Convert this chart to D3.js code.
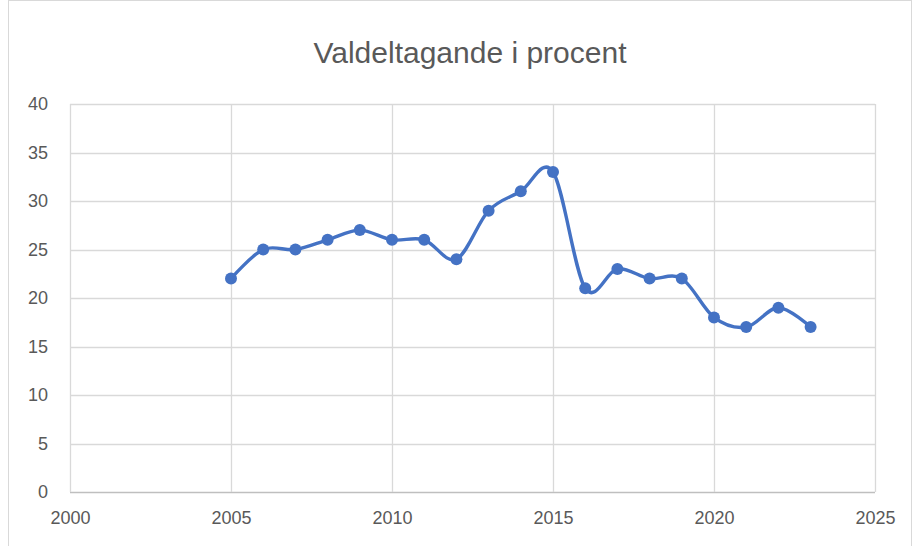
<!DOCTYPE html>
<html>
<head>
<meta charset="utf-8">
<script src="https://cdn.jsdelivr.net/npm/d3@7"></script>
<style>
  body { margin: 0; background: #fff; }
  text { font-family: "Liberation Sans", "Open Sans", sans-serif; fill: #595959; }
</style>
</head>
<body>
<div id="chart"></div>
<script>
// data
const years = [2005, 2006, 2007, 2008, 2009, 2010, 2011, 2012, 2013, 2014, 2015, 2016, 2017, 2018, 2019, 2020, 2021, 2022, 2023];
const turnout = [22, 25, 25, 26, 27, 26, 26, 24, 29, 31, 33, 21, 23, 22, 22, 18, 17, 19, 17];
const xTicks = [2000, 2005, 2010, 2015, 2020, 2025];
const yTicks = [0, 5, 10, 15, 20, 25, 30, 35, 40];
const title = "Valdeltagande i procent";

const width = 914, height = 546;
const margin = { left: 70, right: 39, top: 104, bottom: 54 };

const svg = d3.select("#chart").append("svg")
  .attr("width", width)
  .attr("height", height);

// outer chart border
svg.append("rect")
  .attr("x", 8.5).attr("y", 0.5)
  .attr("width", 903).attr("height", 550)
  .attr("fill", "none")
  .attr("stroke", "#d9d9d9");

const x = d3.scaleLinear()
  .domain([2000, 2025])
  .range([margin.left, width - margin.right]);

const y = d3.scaleLinear()
  .domain([0, 40])
  .range([height - margin.bottom, margin.top]);

// gridlines
svg.append("g")
  .selectAll("line.h")
  .data(yTicks)
  .enter().append("line")
  .attr("x1", x(2000)).attr("x2", x(2025))
  .attr("y1", d => Math.round(y(d)) + 0.5)
  .attr("y2", d => Math.round(y(d)) + 0.5)
  .attr("stroke", d => d === 0 ? "#bfbfbf" : "#d9d9d9")
  .attr("stroke-width", 1.3);

svg.append("g")
  .selectAll("line.v")
  .data(xTicks)
  .enter().append("line")
  .attr("x1", d => Math.round(x(d)) + 0.5)
  .attr("x2", d => Math.round(x(d)) + 0.5)
  .attr("y1", y(40)).attr("y2", y(0))
  .attr("stroke", "#d9d9d9")
  .attr("stroke-width", 1.3);

// axes (labels only)
const yAxis = svg.append("g")
  .attr("transform", "translate(" + (margin.left - 22) + ",0)")
  .call(d3.axisLeft(y).tickValues(yTicks).tickSize(0).tickPadding(0));
yAxis.select(".domain").remove();
yAxis.selectAll("text").style("font-size", "18px").attr("fill", "#595959");

const xAxis = svg.append("g")
  .attr("transform", "translate(0," + (y(0) + 19) + ")")
  .call(d3.axisBottom(x).tickValues(xTicks).tickFormat(d3.format("d")).tickSize(0).tickPadding(0));
xAxis.select(".domain").remove();
xAxis.selectAll("text").style("font-size", "18px").attr("fill", "#595959");

// title
svg.append("text")
  .attr("x", 470)
  .attr("y", 63)
  .attr("text-anchor", "middle")
  .style("font-size", "30px")
  .text(title);

// smoothed line
const pts = years.map((d, i) => [d, turnout[i]]);
const line = d3.line()
  .x(d => x(d[0]))
  .y(d => y(d[1]))
  .curve(d3.curveCatmullRom.alpha(0));

svg.append("path")
  .datum(pts)
  .attr("d", line)
  .attr("fill", "none")
  .attr("stroke", "#4472c4")
  .attr("stroke-width", 3.4);

svg.selectAll("circle")
  .data(pts)
  .enter().append("circle")
  .attr("cx", d => x(d[0]))
  .attr("cy", d => y(d[1]))
  .attr("r", 6)
  .attr("fill", "#4472c4");
</script>
</body>
</html>
